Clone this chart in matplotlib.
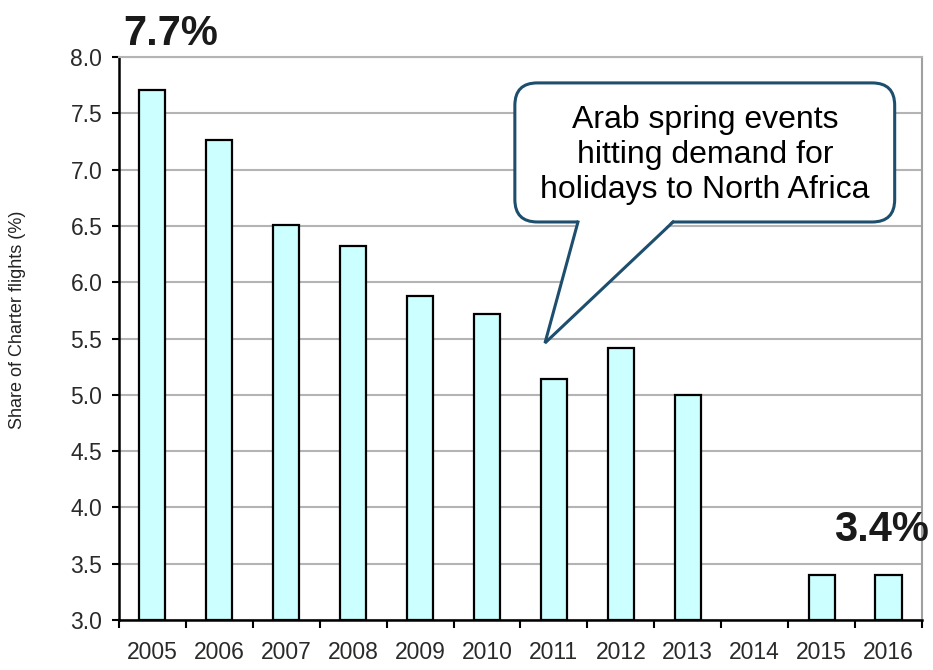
import numpy as np
import matplotlib
matplotlib.use("Agg")
import matplotlib.pyplot as plt
from matplotlib.patches import FancyBboxPatch, Polygon

# data (2014 has no bar)
years = ["2005", "2006", "2007", "2008", "2009", "2010",
         "2011", "2012", "2013", "2014", "2015", "2016"]
share = [7.71, 7.26, 6.51, 6.32, 5.88, 5.72,
         5.14, 5.42, 5.0, np.nan, 3.4, 3.4]
y_ticks = [3.0, 3.5, 4.0, 4.5, 5.0, 5.5, 6.0, 6.5, 7.0, 7.5, 8.0]

plt.rcParams["font.family"] = ["Liberation Sans", "DejaVu Sans"]

fig = plt.figure(figsize=(9.33, 6.7), dpi=100)
ax = fig.add_axes([0.1275, 0.0746, 0.8607, 0.8403])

x = np.arange(len(years))
vals = np.array(share, dtype=float)
ok = ~np.isnan(vals)
ax.bar(x[ok], vals[ok] - 3.0, bottom=3.0, width=0.39,
       color="#ccffff", edgecolor="black", linewidth=1.6, zorder=3)

ax.set_xlim(-0.5, len(years) - 0.5)
ax.set_ylim(3.0, 8.0)
ax.set_yticks(y_ticks)
ax.set_yticklabels([f"{v:.1f}" for v in y_ticks])
ax.set_xticks(x)
ax.set_xticklabels(years)
ax.set_xticks(np.arange(len(years) + 1) - 0.5, minor=True)
ax.tick_params(axis="both", which="major", labelsize=16.5, labelcolor="#2a2a2a")
ax.tick_params(axis="x", which="major", length=0, pad=15)
ax.tick_params(axis="x", which="minor", length=6, width=1.5, direction="out")
ax.tick_params(axis="y", length=5, width=1.5, pad=7)

ax.yaxis.grid(True, color="#b4b4b4", linewidth=1.5, zorder=0)
ax.set_axisbelow(True)
for s in ("left", "bottom"):
    ax.spines[s].set_linewidth(1.8)
    ax.spines[s].set_color("black")
ax.spines["right"].set_color("#a0a0a0")
ax.spines["right"].set_linewidth(1.5)
ax.spines["top"].set_color("#b4b4b4")
ax.spines["top"].set_linewidth(1.5)

fig.text(0.019, 0.522, "Share of Charter flights (%)", rotation=90,
         ha="center", va="center", fontsize=13, color="#222222")

# big labels
ax.text(0.065, 1.04, "7.7%", transform=ax.transAxes, ha="center", va="center",
        fontsize=30, fontweight="bold", color="#1a1a1a")
ax.text(0.95, 0.16, "3.4%", transform=ax.transAxes, ha="center", va="center",
        fontsize=30, fontweight="bold", color="#1a1a1a")

# callout
edge = "#1d4e6e"
box = FancyBboxPatch((0.493, 0.707), 0.473, 0.247,
                     boxstyle="round,pad=0,rounding_size=0.028",
                     transform=ax.transAxes, facecolor="white",
                     edgecolor=edge, linewidth=2.2, zorder=5, clip_on=False,
                     mutation_aspect=803 / 563)
ax.add_patch(box)
tip = (0.5305, 0.492)
base_l = (0.5716, 0.707)
base_r = (0.690, 0.707)
ax.add_patch(Polygon([(base_l[0], base_l[1] + 0.004), tip,
                      (base_r[0], base_r[1] + 0.004)],
                     closed=True, transform=ax.transAxes, facecolor="white",
                     edgecolor="none", zorder=6, clip_on=False))
ax.plot([base_l[0], tip[0], base_r[0]], [base_l[1], tip[1], base_r[1]],
        transform=ax.transAxes, color=edge, linewidth=2.2, zorder=7,
        clip_on=False, solid_joinstyle="miter")
ax.text(0.730, 0.826, "Arab spring events\nhitting demand for\nholidays to North Africa",
        transform=ax.transAxes, ha="center", va="center", fontsize=23,
        linespacing=1.2, zorder=8)

fig.savefig("out.png", dpi=100)
